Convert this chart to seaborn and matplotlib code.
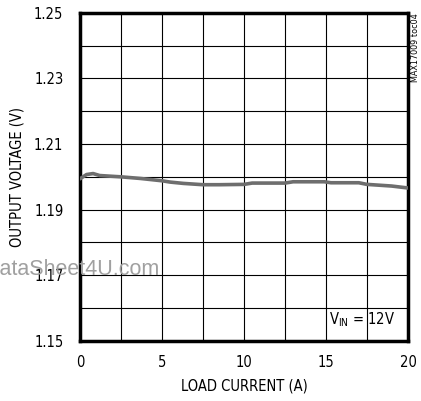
import numpy as np
import pandas as pd
import matplotlib
matplotlib.use("Agg")
import matplotlib.pyplot as plt
import seaborn as sns

# load current (A) vs output voltage (V)
load_current = [0, 0.4, 0.8, 1.2, 2.5, 3.7, 5, 5.5, 6.3, 7.5, 8.5, 10, 10.5,
                12.5, 13, 14.9, 15.3, 17, 17.5, 19, 20]
output_voltage = [1.1994, 1.2007, 1.2010, 1.2004, 1.2000, 1.1995, 1.1988, 1.1984,
                  1.1980, 1.1976, 1.1976, 1.1977, 1.1981, 1.1981, 1.1985, 1.1985,
                  1.1982, 1.1982, 1.1977, 1.1972, 1.1966]

x_ticks = [0, 5, 10, 15, 20]
y_ticks = [1.15, 1.17, 1.19, 1.21, 1.23, 1.25]

df = pd.DataFrame({"load": load_current, "vout": output_voltage})

sns.set_style("white")
plt.rcParams['font.family'] = ['DejaVu Sans Condensed', 'DejaVu Sans']
plt.rcParams['font.stretch'] = 'condensed'
plt.rcParams['text.color'] = 'black'
plt.rcParams['axes.labelcolor'] = 'black'
plt.rcParams['xtick.color'] = 'black'
plt.rcParams['ytick.color'] = 'black'

fig = plt.figure(figsize=(4.21, 4.01), dpi=100)
ax = fig.add_axes([0.19, 0.150, 0.779, 0.818])

sns.lineplot(data=df, x="load", y="vout", color="#6e6e6e", linewidth=2.6, ax=ax, zorder=3)

ax.set_xlim(0, 20)
ax.set_ylim(1.15, 1.25)
ax.set_xticks(x_ticks)
ax.set_xticklabels([str(t) for t in x_ticks], fontsize=10.5)
ax.set_yticks(y_ticks)
ax.set_yticklabels([f"{t:.2f}" for t in y_ticks], fontsize=10.5)
ax.set_xticks(np.arange(0, 20.01, 2.5), minor=True)
ax.set_yticks(np.arange(1.15, 1.2501, 0.01), minor=True)
ax.grid(which="both", color="black", linewidth=0.8)
ax.tick_params(which="both", length=0)
ax.tick_params(axis="y", pad=12)
ax.tick_params(axis="x", pad=10)

for s in ax.spines.values():
    s.set_color("black")
    s.set_linewidth(2.5)

ax.set_xlabel("LOAD CURRENT (A)", fontsize=10.5, labelpad=6.5)
ax.set_ylabel("OUTPUT VOLTAGE (V)", fontsize=10.5, labelpad=6.5)

ax.text(19.2, 1.1537, r"V$_{\mathregular{IN}}$ = 12V", fontsize=10.5, ha="right", va="bottom")
fig.text(0.988, 0.968, "MAX17009 toc04", rotation=90, fontsize=6.5, ha="center", va="top")
fig.text(-0.037, 0.314, "DataSheet4U.com", fontsize=15.5, color="#a0a0a0",
         family="Liberation Sans", stretch="normal", ha="left", va="baseline")

fig.savefig("out.png", dpi=100)
